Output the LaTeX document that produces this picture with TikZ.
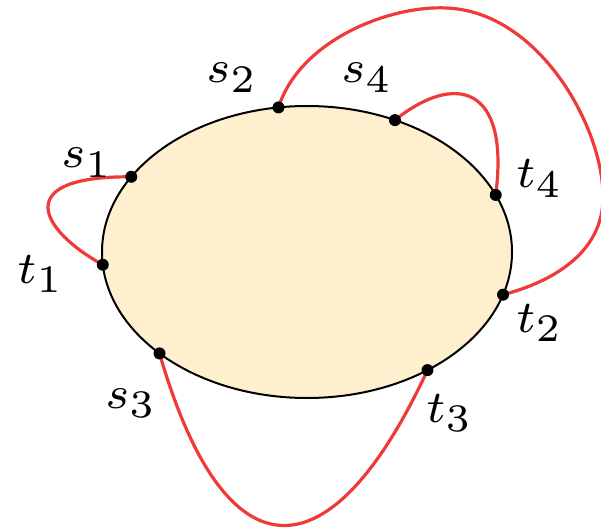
\documentclass[tikz,border=0pt]{standalone}
\DeclareMathSizes{7}{7}{6}{5}
\newcommand{\biglab}[1]{\scalebox{6.5}{\fontsize{7}{8}\selectfont$#1$}}
\begin{document}
\begin{tikzpicture}[x=1pt,y=-1pt,
  region/.style={draw=black,line width=2pt,fill={rgb,255:red,254;green,240;blue,206}},
  wire/.style={draw={rgb,255:red,240;green,58;blue,58},line width=3.2pt,line cap=round},
  term/.style={circle,fill=black,inner sep=0pt,minimum size=12pt},
  lab/.style={inner sep=0pt,anchor=base west}]
\path[use as bounding box] (0,0) rectangle (601,529);
\draw[region] (307,252) ellipse [x radius=205, y radius=146];
% terminals on the ellipse
\coordinate (ps1) at ({307+205*cos(149)},{252-146*sin(149)});
\coordinate (pt1) at ({307+205*cos(185)},{252-146*sin(185)});
\coordinate (ps2) at ({307+205*cos(98)},{252-146*sin(98)});
\coordinate (ps4) at ({307+205*cos(64.6)},{252-146*sin(64.6)});
\coordinate (pt4) at ({307+205*cos(23)},{252-146*sin(23)});
\coordinate (pt2) at ({307+205*cos(-17)},{252-146*sin(-17)});
\coordinate (pt3) at ({307+205*cos(-54)},{252-146*sin(-54)});
\coordinate (ps3) at ({307+205*cos(-136)},{252-146*sin(-136)});
% wires
\draw[wire] (ps1) .. controls (10,176) and (40,230) .. (pt1);
\draw[wire] (ps4) .. controls (455,72) and (510,85) .. (pt4);
\coordinate (top) at (447,8);
\coordinate (right) at (603,200);
\draw[wire] (ps2) .. controls (300,40) and (390,5) .. (top)
  .. controls (540,12) and (605,130) .. (right)
  .. controls (601,260) and (540,285) .. (pt2);
\draw[wire] (ps3) .. controls (225,580) and (330,580) .. (pt3);
% terminal dots
\foreach \p in {ps1,pt1,ps2,ps4,pt4,pt2,pt3,ps3}
  \node[term] (d\p) at (\p) {};
% labels
\node[lab] (ls1) at (61,168) {\biglab{s_1}};
\node[lab] (lt1) at (17,283) {\biglab{t_1}};
\node[lab] (ls2) at (206,83) {\biglab{s_2}};
\node[lab] (ls4) at (341,83) {\biglab{s_4}};
\node[lab] (lt4) at (516,188) {\biglab{t_4}};
\node[lab] (lt2) at (516,332) {\biglab{t_2}};
\node[lab] (lt3) at (426,422) {\biglab{t_3}};
\node[lab] (ls3) at (105,408) {\biglab{s_3}};
\end{tikzpicture}
\end{document}
